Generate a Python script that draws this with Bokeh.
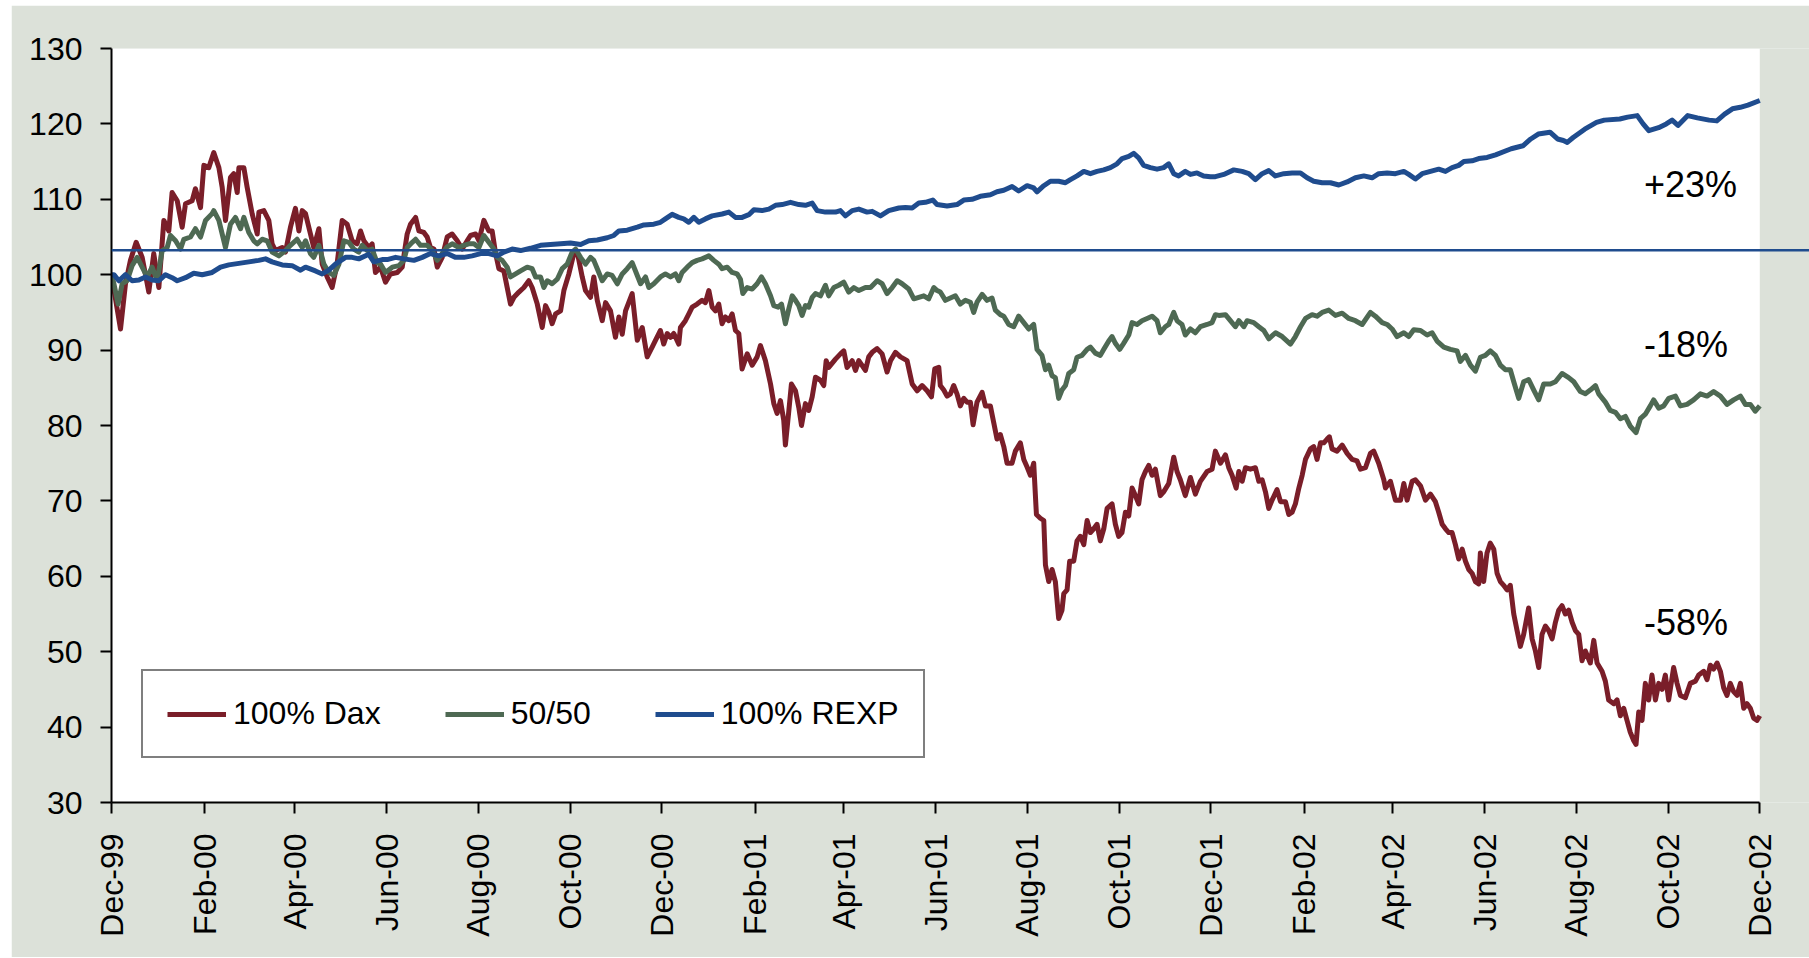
import math
import numpy as np
import pandas as pd
from bokeh.plotting import figure
from bokeh.models import (Range1d, FixedTicker, Span, BoxAnnotation, Legend,
                          LegendItem, ColumnDataSource)
from bokeh.core.properties import value
from bokeh.embed import file_html
from bokeh.resources import INLINE

# ---------------- data ----------------
START = "1999-12-01"
END = "2002-12-01"

tick_dates = ["1999-12-01", "2000-02-01", "2000-04-01", "2000-06-01", "2000-08-01",
              "2000-10-01", "2000-12-01", "2001-02-01", "2001-04-01", "2001-06-01",
              "2001-08-01", "2001-10-01", "2001-12-01", "2002-02-01", "2002-04-01",
              "2002-06-01", "2002-08-01", "2002-10-01", "2002-12-01"]
tick_labels = ["Dec-99", "Feb-00", "Apr-00", "Jun-00", "Aug-00", "Oct-00", "Dec-00",
               "Feb-01", "Apr-01", "Jun-01", "Aug-01", "Oct-01", "Dec-01", "Feb-02",
               "Apr-02", "Jun-02", "Aug-02", "Oct-02", "Dec-02"]
y_ticks = [30, 40, 50, 60, 70, 80, 90, 100, 110, 120, 130]

# days since 1999-12-01
dax_days = [0, 6.0, 9.3, 12.6, 16.4, 20.4, 24.8, 28.1, 31.5, 34.8, 38.1, 40.3, 43.7, 47.0, 49.2,
            53.6, 55.8, 59.2, 61.4, 64.7, 68.0, 71.4, 73.6, 75.8, 79.1, 81.3, 83.6, 84.7, 88.0,
            90.2, 93.5, 96.9, 98.0, 101.3, 104.6, 106.8, 109.0, 113.5, 115.7, 119.0, 122.3,
            124.6, 126.8, 129.0, 132.3, 134.5, 137.9, 140.1, 143.4, 146.7, 150.0, 153.4, 156.7,
            160.0, 163.3, 165.6, 167.8, 171.1, 173.3, 175.5, 178.9,
            182.2, 185.5, 190.0, 193.3, 196.6, 198.8, 202.2, 204.4, 207.7, 209.9, 212.1, 214.4,
            216.6, 219.9, 223.2, 226.5, 229.9, 233.2, 236.5, 238.7, 242.1, 244.3, 247.6, 250.9,
            253.1, 255.4, 257.6, 260.9, 263.1, 265.3, 267.6, 270.9, 274.2, 277.5, 279.7, 283.1,
            286.4, 288.6, 290.8, 293.0, 295.3, 298.6, 300.8, 304.1, 307.4, 309.7, 313.0, 315.2,
            318.5, 320.7, 323.0, 326.3, 328.5, 331.8, 335.1, 337.4, 339.6, 341.8, 346.2, 349.6,
            352.9, 356.2, 359.5,
            361.7, 365.0, 367.2, 369.5, 371.7, 373.9, 377.2, 378.3, 381.6, 383.9, 386.1, 389.4,
            392.7, 394.9, 397.2, 399.4, 401.6, 403.8, 406.0, 408.2, 410.5, 412.7, 414.9, 417.1,
            419.3, 422.7, 426.0, 429.3, 431.5, 434.8, 438.2, 440.4, 442.6, 444.8, 447.0, 448.1,
            450.4, 452.1, 454.8, 457.0, 458.8, 461.4, 463.6, 465.9, 468.1, 471.4, 473.6, 475.2,
            476.9, 481.4, 484.7, 486.9, 489.1, 492.5, 494.7, 496.9, 501.3, 503.5, 505.8, 509.1,
            512.4, 515.7, 518.0, 521.3, 524.6, 529.0, 532.4, 535.7, 539.0, 542.3, 545.2, 547.4,
            550.1,
            551.1, 553.4, 555.6, 557.8, 560.0, 562.2, 564.4, 566.7, 568.9, 571.1, 572.9, 575.5,
            578.9, 581.1, 584.4, 586.6, 588.8, 591.0, 593.3, 595.5, 598.8, 601.0, 604.3, 606.6,
            608.8, 611.0, 613.2, 615.0, 617.6, 619.9, 621.0, 623.2, 625.4, 627.6, 629.8, 632.0,
            633.2, 635.4, 637.1, 639.8, 642.0, 644.2, 646.5, 648.7, 650.9, 653.1, 655.3, 657.5,
            659.8, 662.0, 665.3, 667.5, 669.7, 671.9, 674.2, 676.4, 678.6, 680.8, 683.0, 685.2,
            687.5, 689.7, 691.9, 694.1, 697.4, 699.6, 703.0, 706.3, 708.5, 710.7, 714.0, 717.4,
            720.7, 724.0, 728.5, 731.8, 734.0,
            737.4, 740.7, 742.9, 745.1, 747.8, 749.6, 751.8, 754.0, 757.3, 760.6, 762.9, 765.1,
            767.3, 769.5, 771.7, 775.0, 777.3, 780.6, 782.8, 785.0, 787.2, 789.5, 791.7, 793.9,
            797.2, 799.4, 801.6, 803.9, 806.1, 808.3, 809.8, 811.6, 814.9, 818.3, 821.6, 824.9,
            828.2, 830.5, 833.8, 837.1, 839.3, 842.6, 846.0, 847.1, 850.4, 853.7, 857.1, 859.3,
            861.5, 864.8, 867.0, 870.4, 873.7, 877.0, 880.3, 882.5, 884.8, 887.0, 889.2, 891.4,
            893.6, 895.8, 898.1, 900.3, 902.5, 904.7, 906.9, 909.1,
            910.2, 912.4, 914.6, 916.8, 919.1, 921.3, 923.5, 925.7, 927.9, 930.1, 932.4, 934.6,
            936.8, 939.0, 942.3, 944.6, 946.8, 949.0, 951.2, 953.4, 955.6, 957.9, 960.1, 962.3,
            964.5, 966.7, 968.9, 971.2, 973.4, 975.6, 977.8, 980.0, 983.3, 985.6, 987.8, 991.1,
            993.3, 995.5, 998.9, 1001.1, 1003.3, 1005.5, 1007.7, 1009.9, 1012.2, 1013.7, 1015.5,
            1017.7, 1019.9, 1022.1, 1024.3, 1026.6, 1028.8, 1031.0, 1033.2, 1035.4, 1038.7,
            1041.0, 1043.2, 1046.5, 1049.8, 1053.2, 1055.4, 1058.7, 1060.9, 1063.1, 1065.3,
            1067.6, 1069.8, 1072.0, 1074.2, 1076.4, 1078.6, 1080.9, 1083.1, 1085.3, 1087.5,
            1089.7, 1091.9, 1094.2, 1096.0]
dax_vals = [100.0, 92.8, 98.8, 101.9, 104.3, 102.3, 97.7, 102.8, 98.3, 107.2, 105.8, 110.9, 109.8,
            106.3, 109.4, 109.8, 111.4, 108.9, 114.5, 114.2, 116.2, 114.2, 111.6, 107.2, 112.9,
            113.4, 110.9, 114.2, 114.2, 111.6, 108.1, 105.4, 108.3, 108.5, 107.2, 104.1, 103.2,
            103.6, 103.0, 106.3, 108.8, 105.8, 108.5, 108.1, 105.4, 103.6, 106.1, 101.4, 99.7,
            98.3, 101.4, 107.2, 106.7, 104.5, 104.1, 105.8, 104.5, 103.6, 104.1, 100.3, 101.0,
            99.0, 100.1, 100.3, 101.0, 105.4, 106.7, 107.6, 105.8, 105.6, 105.0, 103.6, 103.4,
            101.0, 102.3, 105.0, 105.4, 104.5, 103.4, 104.5, 105.2, 105.4, 104.5, 107.2, 105.8,
            105.8, 102.8, 100.8, 100.5, 98.3, 96.1, 97.0, 97.7, 98.3, 99.2, 98.3, 96.1,
            93.0, 95.9, 95.0, 93.5, 94.8, 95.2, 97.9, 100.1, 102.8, 103.0, 99.7, 97.9,
            97.0, 99.7, 96.6, 93.9, 96.3, 95.2, 91.7, 94.4, 92.1, 95.2, 97.5, 91.3,
            93.0, 89.1, 90.4,
            91.3, 92.6, 90.8, 92.2, 91.7, 92.2, 90.8, 93.0, 93.9, 94.8, 95.7, 96.1,
            96.6, 96.3, 97.9, 95.7, 95.2, 96.1, 93.5, 94.4, 93.9, 94.8, 92.6, 92.2,
            87.5, 89.5, 88.0, 89.1, 90.6, 88.6, 85.5, 82.9, 81.6, 83.3, 80.7, 77.4,
            82.0, 85.5, 84.6, 82.4, 80.0, 82.9, 82.0, 83.8, 86.4, 86.0, 85.3, 88.6,
            87.7, 88.8, 89.5, 89.9, 87.7, 88.6, 87.3, 88.6, 87.3, 89.1, 89.7, 90.2,
            89.5, 87.1, 88.6, 89.7, 89.1, 88.6, 85.5, 84.6, 85.3, 84.6, 83.8, 87.5,
            87.7,
            85.3, 84.7, 83.9, 84.2, 85.3, 84.2, 82.6, 83.6, 83.1, 83.1, 80.1, 83.1,
            84.4, 82.6, 82.6, 80.4, 78.2, 78.8, 77.2, 75.0, 75.0, 76.6, 77.7, 75.5,
            74.5, 73.4, 75.0, 68.2, 67.7, 67.4, 61.5, 59.3, 60.9, 59.3, 54.4, 55.5,
            57.7, 58.2, 62.0, 62.0, 64.7, 65.3, 64.2, 67.4, 65.8, 66.3, 66.9, 64.7,
            66.3, 69.0, 69.6, 66.9, 65.3, 65.8, 68.5, 68.0, 71.7, 70.7, 69.6, 72.8,
            73.9, 74.7, 73.4, 74.2, 70.7, 71.2, 72.3, 75.8, 73.9, 72.8, 70.7, 73.1,
            70.9, 72.6, 73.9, 74.2, 76.6,
            75.0, 76.1, 74.4, 73.4, 71.7, 73.9, 72.6, 74.4, 74.2, 74.4, 72.6, 72.8,
            71.2, 69.0, 70.1, 71.5, 69.9, 69.9, 68.2, 68.5, 69.6, 71.7, 73.4, 75.5,
            76.9, 77.2, 75.5, 77.7, 77.7, 78.2, 78.5, 76.9, 76.6, 77.4, 76.3, 75.5,
            75.3, 74.2, 74.4, 76.3, 76.6, 75.0, 72.8, 71.7, 72.6, 70.1, 70.1, 72.3,
            70.1, 72.6, 72.8, 72.0, 70.1, 70.9, 69.9, 68.5, 66.9, 66.3, 65.8, 65.8,
            64.2, 62.3, 63.6, 62.0, 60.9, 60.4, 59.3, 59.0,
            63.1, 59.3, 63.1, 64.4, 63.6, 60.4, 59.3, 58.8, 58.2, 58.8, 55.0, 52.8,
            50.7, 52.3, 55.8, 51.7, 50.1, 47.9, 52.3, 53.4, 52.8, 51.7, 53.9, 55.5,
            56.1, 55.0, 55.5, 53.9, 52.8, 52.3, 48.8, 50.1, 48.5, 51.5, 48.5, 47.4,
            46.1, 43.6, 43.1, 43.6, 41.5, 42.5, 40.9, 39.3, 38.2, 37.7, 42.0,
            40.9, 45.8, 43.6, 46.9, 43.6, 45.8, 45.0, 46.9, 43.6, 47.9,
            45.8, 44.2, 43.9, 45.8, 46.1, 46.9, 47.4, 46.3, 48.2, 47.7,
            48.5, 47.4, 45.2, 44.2, 45.8, 44.7, 44.2, 45.8, 42.5, 43.1,
            42.5, 41.2, 40.9, 41.5]

mix_days = [0, 1.6, 4.4, 7.1, 10.4, 13.7, 17.1, 20.4, 23.7, 27.0, 30.4, 33.7, 37.0, 39.2, 42.6,
            45.9, 48.1, 52.5, 55.8, 59.2, 62.5, 66.9, 68.0, 71.4, 75.8, 79.1, 82.4, 85.8, 88.0,
            91.3, 94.6, 96.9, 100.2, 103.5, 106.8, 111.3, 115.7, 119.0, 123.4, 126.8, 129.0,
            132.3, 134.5, 137.9, 141.2, 144.5, 147.8, 151.2, 154.5, 157.8, 161.1, 164.4, 166.7,
            170.0, 173.3, 176.6,
            178.9, 182.2, 186.7, 191.1, 194.4, 196.6, 200.0, 202.2, 205.5, 209.9, 213.3, 216.6,
            219.9, 223.2, 226.5, 231.0, 234.3, 237.6, 241.0, 244.3, 247.6, 250.9, 254.3, 256.5,
            259.8, 263.1, 265.3, 268.7, 272.0, 276.4, 279.7, 282.0, 285.3, 287.5, 289.7, 293.0,
            296.4, 299.7, 303.0, 306.3, 308.6, 311.9, 315.2, 318.5, 320.7, 323.0, 326.3, 329.6,
            332.9, 336.3, 339.6, 342.9, 346.2, 349.6, 351.8, 355.1, 357.3, 360.6,
            365.0, 368.3, 371.7, 375.0, 377.2, 379.4, 382.8, 386.1, 389.4, 392.7, 397.2, 400.5,
            403.8, 406.0, 409.4, 412.7, 416.0, 418.2, 419.8, 422.7, 426.0, 429.3, 432.2, 434.8,
            438.2, 440.4, 443.3, 445.5, 448.1, 450.4, 452.6, 454.8, 457.0, 459.2, 461.4, 463.6,
            465.9, 468.1, 471.4, 474.7, 476.9, 480.3, 483.6, 486.9, 490.2, 493.6, 496.9, 501.3,
            504.7, 509.1, 512.4, 515.7, 519.1, 522.4, 525.7, 530.1, 533.5, 536.8, 540.1, 543.4,
            546.8, 549.0,
            551.1, 554.5, 557.8, 561.1, 564.4, 567.8, 571.1, 573.3, 575.5, 578.9, 582.2, 585.5,
            587.7, 591.0, 593.3, 596.6, 599.9, 603.2, 606.6, 609.9, 613.2, 615.4, 618.7, 621.0,
            623.2, 625.4, 627.6, 629.8, 632.0, 634.3, 636.5, 639.8, 642.0, 645.3, 648.7, 650.9,
            654.2, 657.5, 659.8, 663.1, 665.3, 667.5, 670.4, 673.0, 676.4, 678.6, 681.9, 685.2,
            688.6, 691.9, 695.2, 697.4, 700.7, 703.0, 706.3, 708.5, 711.8, 714.0, 717.4, 720.7,
            724.0, 728.5, 731.8, 734.0,
            736.3, 740.7, 744.0, 747.3, 749.6, 752.9, 755.1, 759.5, 762.9, 766.2, 769.5, 774.0,
            778.4, 783.9, 787.2, 790.6, 793.9, 798.3, 801.6, 805.0, 809.4, 813.8, 818.3, 822.7,
            827.1, 831.6, 837.1, 840.4, 844.9, 848.2, 851.5, 854.8, 859.3, 862.6, 865.9, 870.4,
            874.8, 878.1, 881.4, 885.9, 890.3, 894.7, 896.9, 900.3, 903.6, 906.9,
            910.2, 913.5, 916.8, 920.2, 923.5, 926.8, 930.1, 932.4, 935.7, 939.0, 942.3, 945.7,
            949.0, 952.3, 956.7, 960.1, 964.5, 968.9, 972.3, 976.7, 980.0, 983.3, 986.7, 988.9,
            993.3, 996.6, 1000.0, 1003.3, 1006.6, 1009.9, 1013.7, 1016.6, 1019.9, 1023.2, 1025.4,
            1028.8, 1032.1, 1035.4, 1039.9, 1043.2, 1047.6, 1052.0, 1056.5, 1060.9, 1065.3,
            1069.8, 1074.2, 1078.6, 1083.1, 1086.4, 1089.7, 1093.0, 1096.0]
mix_vals = [100.0, 98.8, 96.1, 98.8, 99.2, 101.2, 102.3, 101.0, 99.7, 101.0, 99.2, 103.2, 103.6,
            105.2, 104.5, 103.4, 104.7, 105.0, 106.1, 105.0, 107.2, 108.1, 108.5, 107.2, 103.6,
            106.7, 107.6, 106.1, 107.6, 105.6, 104.5, 104.1, 104.7, 104.5, 103.0, 102.5, 103.2,
            103.9, 104.7, 103.6, 104.5, 102.8, 102.3, 103.9, 101.4, 100.3, 99.9, 101.4, 104.5,
            104.3, 103.4, 103.0, 103.9, 103.2, 103.4, 101.6,
            101.4, 100.3, 101.0, 101.2, 101.9, 103.6, 104.3, 104.7, 103.9, 103.9, 103.2, 101.9,
            102.8, 103.7, 104.1, 103.6, 103.9, 104.1, 104.1, 103.6, 105.2, 104.3, 103.4, 102.3,
            101.9, 101.0, 99.7, 100.1, 100.5, 101.0, 100.8, 99.7, 99.7, 98.3, 99.2, 98.8,
            99.4, 100.8, 101.4, 103.0, 103.4, 102.3, 101.4, 102.3, 101.9, 100.8, 99.2, 100.1,
            99.9, 98.8, 100.1, 100.8, 101.6, 99.9, 98.8, 99.7, 98.3, 98.8,
            99.7, 100.1, 99.7, 100.1, 99.2, 100.3, 101.0, 101.6, 101.9, 102.1, 102.5, 101.9,
            101.4, 100.8, 101.0, 100.3, 100.1, 99.4, 97.5, 98.3, 98.1, 98.8, 99.7, 98.8,
            97.2, 95.9, 95.7, 96.1, 93.5, 95.5, 97.2, 96.6, 95.9, 94.6, 95.9, 95.7,
            97.0, 97.5, 97.2, 98.6, 97.2, 98.3, 98.6, 99.0, 97.7, 98.3, 97.9, 98.3,
            98.3, 99.2, 98.8, 97.5, 98.3, 99.2, 98.8, 98.1, 96.8, 97.0, 97.2, 96.8,
            98.3, 97.9,
            97.7, 96.6, 96.9, 97.2, 96.1, 96.6, 96.35, 95.0, 96.35, 97.4, 96.6, 96.9,
            95.3, 94.7, 94.5, 93.4, 93.1, 94.5, 93.65, 92.8, 93.4, 90.1, 89.3, 87.4,
            88.0, 86.6, 86.35, 83.6, 84.7, 85.3, 86.9, 87.4, 89.05, 89.3, 90.1, 90.4,
            89.6, 89.3, 90.1, 91.2, 91.8, 90.9, 90.1, 90.9, 92.0, 93.65, 93.4, 93.9,
            94.2, 94.5, 93.9, 92.3, 93.1, 93.4, 95.0, 93.9, 93.4, 92.0, 92.8, 92.3,
            93.1, 93.4, 93.65, 94.7,
            94.6, 94.7, 93.9, 93.1, 93.9, 93.1, 93.9, 93.65, 93.1, 92.6, 91.5, 92.3,
            91.8, 90.8, 91.8, 93.1, 94.2, 94.7, 94.5, 95.0, 95.3, 94.6, 94.9, 94.2,
            93.9, 93.4, 95.0, 94.5, 93.65, 93.4, 92.8, 91.8, 92.3, 91.8, 92.7, 92.6,
            92.0, 92.3, 91.2, 90.4, 90.1, 89.9, 88.5, 89.3, 88.0, 87.2,
            89.05, 89.3, 89.9, 89.3, 88.0, 87.4, 87.4, 85.8, 83.6, 85.8, 86.1, 84.7,
            83.4, 85.5, 85.5, 85.8, 86.9, 86.35, 85.8, 84.5, 84.2, 84.7, 85.3, 84.2,
            83.1, 82.0, 81.75, 80.9, 81.2, 79.9, 79.05, 80.9, 81.5, 82.6, 83.4,
            82.3, 82.6, 83.6, 83.9, 82.6, 82.8, 83.4, 84.2, 83.9, 84.5,
            83.9, 82.8, 83.4, 83.9, 82.8, 82.8, 81.9, 82.6]

rexp_days = [0, 1.6, 4.9, 9.3, 13.7, 18.2, 22.6, 27.0, 31.5, 35.9, 40.3, 43.7, 49.2, 54.7, 60.3,
             66.9, 72.5, 78.0, 84.7, 91.3, 97.9, 102.4, 106.8, 113.5, 120.1, 125.7, 129.0, 135.6,
             140.1, 144.5, 148.9, 155.6, 160.0, 164.4, 171.1, 174.4, 180.0,
             183.3, 188.9, 194.4, 201.1, 206.6, 212.1, 217.7, 223.2, 228.8, 234.3, 239.8, 245.4,
             250.9, 256.5, 260.9, 266.4, 272.0, 278.6, 285.3, 291.9, 298.6, 305.2, 311.9, 317.4,
             323.0, 329.6, 334.0, 337.4, 342.9, 349.6, 354.0, 360.6,
             365.0, 368.3, 372.8, 377.2, 380.5, 383.9, 387.2, 390.5, 394.9, 399.4, 406.0, 410.5,
             414.9, 419.3, 423.8, 427.1, 432.6, 437.1, 441.5, 445.9, 451.5, 457.0, 461.4, 465.9,
             469.2, 474.7, 481.4, 484.7, 488.0, 492.5, 496.9, 502.4, 505.8, 511.3, 516.8, 523.5,
             527.9, 532.4, 536.8, 541.2, 546.1,
             548.9, 555.6, 562.2, 566.7, 572.2, 577.7, 584.4, 588.8, 593.3, 598.8, 603.2, 608.8,
             613.2, 615.4, 619.9, 624.3, 629.8, 634.3, 637.6, 642.0, 646.5, 650.9, 655.3, 659.8,
             664.2, 668.6, 672.0, 676.4, 679.7, 683.0, 686.3, 690.8, 695.2, 699.6, 703.0, 706.3,
             709.6, 714.0, 717.4, 721.8, 726.2, 730.7,
             734.0, 739.6, 746.2, 751.8, 756.2, 760.6, 765.1, 769.5, 773.9, 779.5, 785.0, 790.6,
             795.0, 799.4, 805.0, 810.5, 816.1, 821.6, 827.1, 832.7, 838.2, 842.6, 848.2, 853.7,
             859.3, 862.6, 867.0, 871.5, 877.0, 882.5, 887.0, 891.4, 895.8, 899.2, 904.7, 909.1,
             914.7,
             920.3, 930.7, 938.5, 943.7, 948.7, 956.5, 961.5, 965.4, 968.0, 971.9, 979.6, 987.4,
             992.6, 1002.9, 1008.1, 1014.5, 1018.4, 1022.2, 1028.7, 1033.8, 1037.7, 1041.6,
             1048.1, 1054.5, 1062.3, 1067.4, 1072.6, 1077.8, 1083.0, 1088.1, 1096.0]
rexp_vals = [100.0, 100.0, 99.2, 100.0, 99.2, 99.3, 99.7, 99.3, 99.2, 100.0, 99.6, 99.2, 99.6,
             100.2, 100.0, 100.3, 101.0, 101.3, 101.5, 101.7, 101.9, 102.1, 101.7, 101.3, 101.2,
             100.6, 101.0, 100.5, 100.1, 100.6, 101.4, 102.3, 102.3, 102.1, 102.7, 101.7, 102.0,
             102.0, 102.3, 102.1, 101.9, 102.3, 102.8, 102.5, 102.8, 102.3, 102.3, 102.5, 102.8,
             102.8, 102.5, 103.0, 103.4, 103.2, 103.5, 103.9, 104.0, 104.1, 104.2, 104.0, 104.5,
             104.6, 104.9, 105.2, 105.8, 105.9, 106.3, 106.6, 106.7,
             106.95, 107.4, 108.0, 107.6, 107.4, 106.95, 107.6, 106.95, 107.4, 107.8, 108.05,
             108.3, 107.6, 107.6, 107.96, 108.6, 108.5, 108.7, 109.2, 109.3, 109.6, 109.3, 109.2,
             109.5, 108.5, 108.3, 108.3, 108.5, 107.8, 108.5, 108.7, 108.3, 108.4, 107.8, 108.5,
             108.85, 108.9, 108.85, 109.5, 109.6, 109.9,
             109.3, 109.1, 109.3, 109.9, 110.0, 110.4, 110.6, 111.0, 111.2, 111.7, 111.1, 111.8,
             111.5, 111.0, 111.8, 112.4, 112.4, 112.2, 112.6, 113.1, 113.7, 113.4, 113.7, 113.9,
             114.2, 114.7, 115.4, 115.7, 116.1, 115.5, 114.5, 114.2, 114.0, 114.2, 114.7, 113.4,
             113.1, 113.7, 113.3, 113.5, 113.1, 113.0,
             113.0, 113.3, 113.9, 113.7, 113.4, 112.6, 113.4, 113.8, 113.1, 113.4, 113.5, 113.5,
             112.85, 112.4, 112.2, 112.2, 111.9, 112.3, 112.85, 113.1, 112.85, 113.4, 113.5,
             113.4, 113.7, 113.3, 112.7, 113.4, 113.7, 114.0, 113.7, 114.2, 114.5, 115.0, 115.1,
             115.4, 115.55,
             115.9, 116.7, 117.1, 118.0, 118.65, 118.9, 118.0, 117.8, 117.55, 118.2, 119.3, 120.2,
             120.5, 120.65, 120.9, 121.1, 120.0, 119.1, 119.5, 120.0, 120.5, 119.8, 121.1, 120.8,
             120.5, 120.4, 121.3, 122.0, 122.2, 122.5, 123.1]

series_names = ["100% Dax", "50/50", "100% REXP"]
ann_text = ["+23%", "-18%", "-58%"]
ann_day = [1019, 1019, 1019]
ann_val = [112.0, 90.7, 53.9]
ref_level = 103.25

# ---------------- styling ----------------
GRAY = "#DCE1D9"
RED = "#7A1E29"
GREEN = "#4E6953"
BLUE = "#1F4C8E"
FONT = "Liberation Sans"

d0 = pd.Timestamp(START)
d1 = pd.Timestamp(END)


def to_dt(days):
    return d0 + pd.to_timedelta(np.asarray(days, dtype=float), unit="D")


def ms(ts):
    return ts.value / 1e6


W, H = 1798, 952
BL, BT, BB = 100, 43, 155
total_days = (d1 - d0).days
frame_w = W - BL
data_w = 1648.3
x_end = d0 + pd.to_timedelta(total_days * frame_w / data_w, unit="D")

p = figure(width=W, height=H, x_axis_type="datetime",
           x_range=Range1d(d0, x_end), y_range=Range1d(30, 130),
           output_backend="svg", toolbar_location=None,
           min_border_left=BL, min_border_right=0, min_border_top=BT, min_border_bottom=BB,
           background_fill_color=GRAY, border_fill_color=GRAY, outline_line_color=None)
p.margin = (5, 0, 1, 11)
p.xgrid.visible = False
p.ygrid.visible = False

p.add_layout(BoxAnnotation(left=ms(d0), right=ms(d1), fill_color="white", fill_alpha=1.0,
                           line_color=None, level="underlay"))

r_dax = p.line(to_dt(dax_days), dax_vals, line_color=RED, line_width=5, line_join="round")
r_mix = p.line(to_dt(mix_days), mix_vals, line_color=GREEN, line_width=5, line_join="round")
r_rexp = p.line(to_dt(rexp_days), rexp_vals, line_color=BLUE, line_width=5, line_join="round")

p.add_layout(Span(location=ref_level, dimension="width", line_color=BLUE, line_width=2.5))

src = ColumnDataSource(dict(x=to_dt(ann_day), y=ann_val, t=ann_text))
p.text(x="x", y="y", text="t", source=src, text_font=value(FONT), text_font_size=value("36px"),
       text_color="black", text_align="left", text_baseline="middle")

# axes
tick_ms = [ms(pd.Timestamp(d)) for d in tick_dates]
xa = p.xaxis[0]
xa.ticker = FixedTicker(ticks=tick_ms)
xa.major_label_overrides = {t: lab for t, lab in zip(tick_ms, tick_labels)}
xa.bounds = (ms(d0), ms(d1))
xa.major_label_orientation = math.pi / 2
xa.major_label_standoff = 20

ya = p.yaxis[0]
ya.ticker = FixedTicker(ticks=y_ticks)
ya.major_label_standoff = 18

for ax in (xa, ya):
    ax.axis_line_color = "black"
    ax.axis_line_width = 2
    ax.major_tick_line_color = "black"
    ax.major_tick_line_width = 2
    ax.major_tick_out = 11
    ax.major_tick_in = 0
    ax.minor_tick_line_color = None
    ax.major_label_text_font = FONT
    ax.major_label_text_font_size = "32px"
    ax.major_label_text_color = "black"

legend = Legend(items=[LegendItem(label=series_names[0], renderers=[r_dax]),
                       LegendItem(label=series_names[1], renderers=[r_mix]),
                       LegendItem(label=series_names[2], renderers=[r_rexp])],
                orientation="horizontal", location=(30, 44),
                label_text_font=FONT, label_text_font_size="32px", label_text_color="black",
                glyph_width=59, glyph_height=20, label_standoff=7, spacing=64,
                padding=24, margin=0, border_line_color="black", border_line_width=2,
                background_fill_color="white", background_fill_alpha=1.0)
p.add_layout(legend)

open("out.html", "w").write(file_html(p, INLINE))
